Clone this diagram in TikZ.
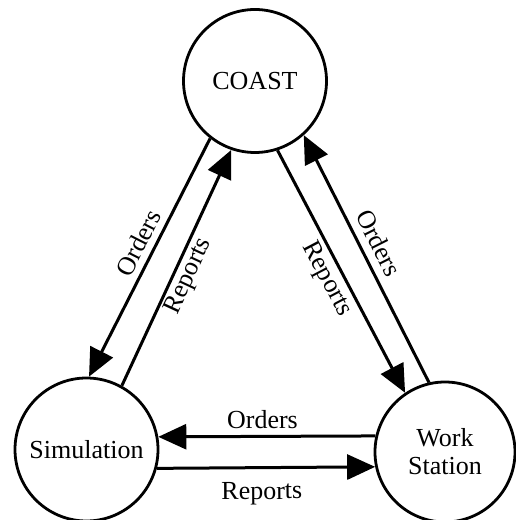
\documentclass[tikz,border=0pt]{standalone}
\usepackage{fontspec}
\setmainfont{Liberation Serif}
\usetikzlibrary{arrows.meta}
\begin{document}
\begin{tikzpicture}[x=1pt,y=1pt,
  circ/.style={circle,draw,line width=2.8pt,inner sep=0pt,align=center,
    font=\fontsize{26}{28}\selectfont},
  conn/.style={line width=3pt,-{Triangle[length=28pt,width=25pt]}},
  lab/.style={font=\fontsize{26}{28}\selectfont,sloped,inner sep=1pt}]
\useasboundingbox (0,0) rectangle (515,520);
\node[circ,minimum size=143pt] (coast) at (255,439) {COAST};
\node[circ,minimum size=143pt] (sim) at (86.5,70.5) {Simulation};
\node[circ,minimum size=140pt] (ws) at (445,68) {Work\\Station};
% left pair
\draw[conn] (coast.232.7) -- node[lab,pos=0.47,above=5pt]{Orders} (sim.88.8);
\draw[conn] (sim.61.8) -- node[lab,pos=0.49,below=1pt]{Reports} (coast.251.6);
% right pair
\draw[conn] (coast.288.2) -- node[lab,pos=0.5,below=3pt]{Reports} (ws.124.7);
\draw[conn] (ws.103.7) -- node[lab,pos=0.53,above=7pt]{Orders} (coast.312.8);
% bottom pair
\draw[conn] (ws.167.9) -- node[lab,pos=0.52,above=5pt]{Orders} (sim.10);
\draw[conn] (sim.345.3) -- node[lab,pos=0.48,below=12pt]{Reports} (ws.192.5);
\end{tikzpicture}
\end{document}
